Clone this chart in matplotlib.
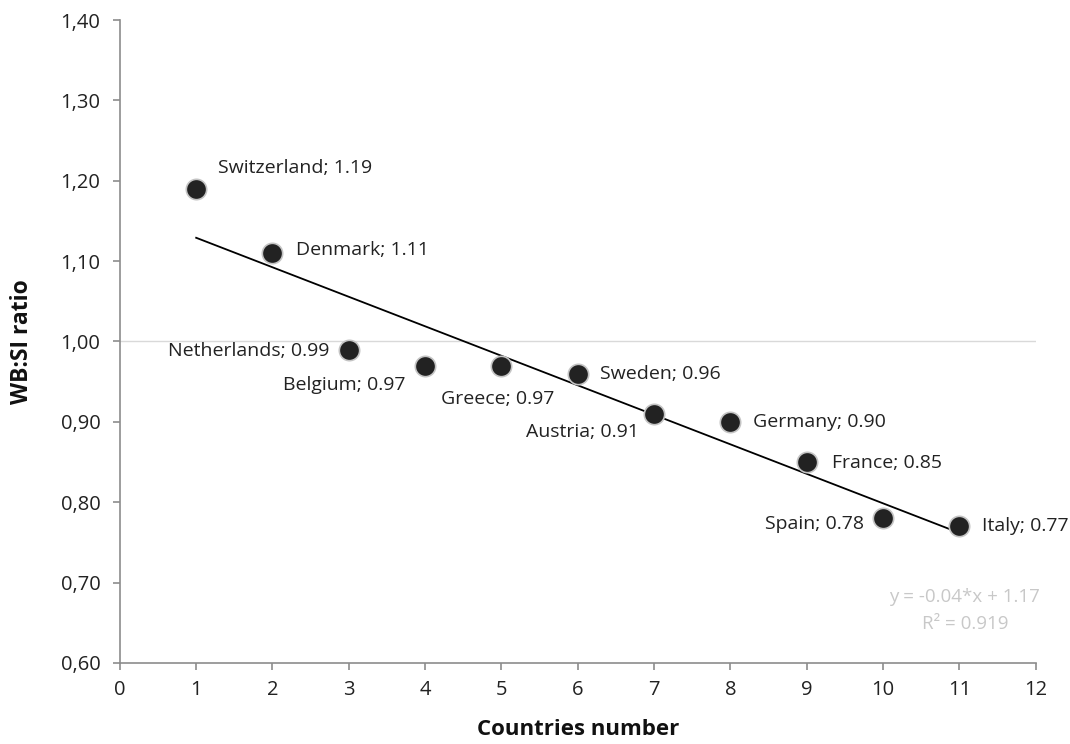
import numpy as np
import matplotlib
matplotlib.use("Agg")
import matplotlib.pyplot as plt

plt.rcParams['font.family'] = ['Open Sans', 'DejaVu Sans']

countries = ["Switzerland", "Denmark", "Netherlands", "Belgium", "Greece", "Sweden",
             "Austria", "Germany", "France", "Spain", "Italy"]
numbers = [1, 2, 3, 4, 5, 6, 7, 8, 9, 10, 11]
ratios = [1.19, 1.11, 0.99, 0.97, 0.97, 0.96, 0.91, 0.90, 0.85, 0.78, 0.77]
x_ticks = [0, 1, 2, 3, 4, 5, 6, 7, 8, 9, 10, 11, 12]
y_ticks = [0.60, 0.70, 0.80, 0.90, 1.00, 1.10, 1.20, 1.30, 1.40]
y_tick_labels = ["0,60", "0,70", "0,80", "0,90", "1,00", "1,10", "1,20", "1,30", "1,40"]

# label offsets in points (dx, dy, ha, va)
offsets = {
    "Switzerland": (16, 15, "left", "center"),
    "Denmark": (17, 2, "left", "center"),
    "Netherlands": (-14, -1, "right", "center"),
    "Belgium": (-14, -14, "right", "center"),
    "Greece": (-3, -24, "center", "center"),
    "Sweden": (16, 0, "left", "center"),
    "Austria": (-11, -13, "right", "center"),
    "Germany": (16, 0, "left", "center"),
    "France": (18, -1, "left", "center"),
    "Spain": (-14, -4, "right", "center"),
    "Italy": (16, 0, "left", "center"),
}

fig = plt.figure(figsize=(10.7, 7.44), dpi=100)
ax = fig.add_axes([0.112, 0.109, 0.856, 0.864])

ax.set_xlim(0, 12)
ax.set_ylim(0.60, 1.40)
ax.set_xticks(x_ticks)
ax.set_yticks(y_ticks)
ax.set_yticklabels(y_tick_labels)

ax.axhline(1.00, color="#d9d9d9", lw=1, zorder=0)

slope, intercept = np.polyfit(numbers, ratios, 1)
xs = np.array([numbers[0], numbers[-1]])
ax.plot(xs, slope * xs + intercept, color="black", lw=1.3, zorder=2)

ax.scatter(numbers, ratios, s=215, color="#222222", edgecolors="#c4c4c4", linewidths=1.2, zorder=3)

for c, xv, yv in zip(countries, numbers, ratios):
    dx, dy, ha, va = offsets[c]
    ax.annotate(f"{c}; {yv:.2f}", (xv, yv), xytext=(dx, dy), textcoords="offset points",
                ha=ha, va=va, fontsize=14, color="#222222")

ax.text(11.07, 0.682, "y = -0.04*x + 1.17", color="#c8c8c8", fontsize=13.5, ha="center", va="center")
ax.text(11.07, 0.649, "R² = 0.919", color="#c8c8c8", fontsize=13.5, ha="center", va="center")

for s in ["top", "right"]:
    ax.spines[s].set_visible(False)
for s in ["left", "bottom"]:
    ax.spines[s].set_color("#8c8c8c")
    ax.spines[s].set_linewidth(1.2)
ax.tick_params(axis="both", colors="#8c8c8c", length=5, width=1.2, labelsize=14.5, labelcolor="#222222")
ax.tick_params(axis="y", pad=9)
ax.tick_params(axis="x", pad=7)

ax.set_xlabel("Countries number", fontsize=16, fontweight="bold", color="#111111")
ax.set_ylabel("WB:SI ratio", fontsize=16.5, fontweight="bold", color="#111111")
ax.xaxis.set_label_coords(0.5, -0.087)
ax.yaxis.set_label_coords(-0.094, 0.5)

fig.savefig("out.png", dpi=100)
